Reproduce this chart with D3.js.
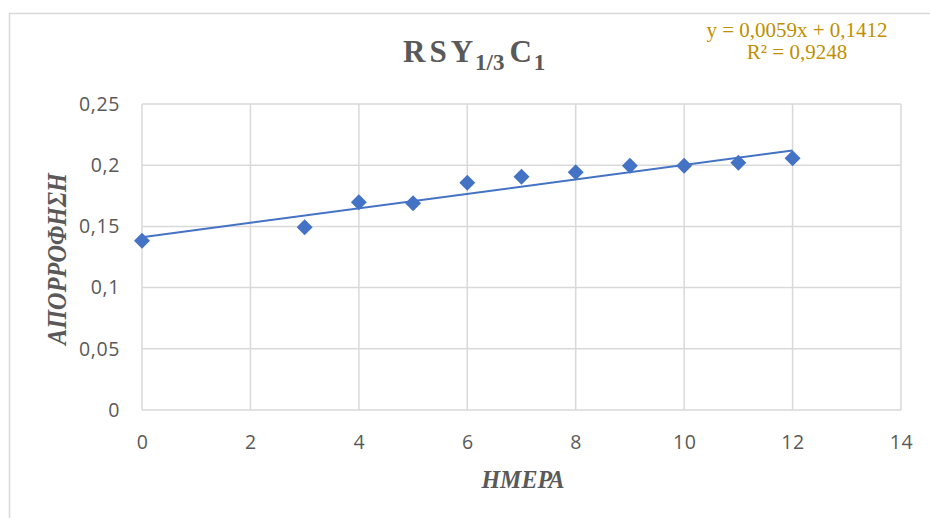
<!DOCTYPE html>
<html>
<head>
<meta charset="utf-8">
<script src="https://cdn.jsdelivr.net/npm/d3@7"></script>
<style>
  html, body { margin: 0; padding: 0; background: #fff; }
  svg { display: block; }
</style>
</head>
<body>
<svg id="chart" width="930" height="518"></svg>
<script>
// Absorbance measured per day
const days       = [0, 3, 4, 5, 6, 7, 8, 9, 10, 11, 12];
const absorbance = [0.1383, 0.1493, 0.1697, 0.1689, 0.1857, 0.1906, 0.1942, 0.1996, 0.1996, 0.2020, 0.2056];

// Linear trendline y = slope * x + intercept
const trendSlope     = [0.0059];
const trendIntercept = [0.1412];
const trendLabel     = ["y = 0,0059x + 0,1412", "R² = 0,9248"];

const xTicks = [0, 2, 4, 6, 8, 10, 12, 14];
const yTicks = [0, 0.05, 0.1, 0.15, 0.2, 0.25];

const svg = d3.select("#chart");
const grey = "#595959";
const gridCol = "#d9d9d9";
const blue = "#4472C4";
const serif = "'Liberation Serif', 'Times New Roman', serif";

const plot = { left: 142, right: 901, top: 104, bottom: 410 };

const x = d3.scaleLinear().domain([0, 14]).range([plot.left, plot.right]);
const y = d3.scaleLinear().domain([0, 0.25]).range([plot.bottom, plot.top]);

const fmt = v => String(+v.toFixed(2)).replace(".", ",");

// Chart area frame (left and top edges)
svg.append("path")
  .attr("d", "M9.5,518 V13.5 H930")
  .attr("fill", "none").attr("stroke", gridCol).attr("stroke-width", 1.5);

// Gridlines
const grid = svg.append("g");
grid.selectAll("line.h").data(yTicks).join("line")
  .attr("x1", plot.left).attr("x2", plot.right)
  .attr("y1", d => y(d)).attr("y2", d => y(d))
  .attr("stroke", gridCol).attr("stroke-width", 1.5);
grid.selectAll("line.v").data(xTicks).join("line")
  .attr("y1", plot.top).attr("y2", plot.bottom)
  .attr("x1", d => x(d)).attr("x2", d => x(d))
  .attr("stroke", gridCol).attr("stroke-width", 1.5);

// Axes (labels only)
const xAxis = svg.append("g")
  .attr("transform", `translate(0,${plot.bottom + 22})`)
  .call(d3.axisBottom(x).tickValues(xTicks).tickSize(0).tickFormat(d => d));
const yAxis = svg.append("g")
  .attr("transform", `translate(${plot.left - 22},0)`)
  .call(d3.axisLeft(y).tickValues(yTicks).tickSize(0).tickFormat(fmt));
[xAxis, yAxis].forEach(a => {
  a.select(".domain").remove();
  a.selectAll("text")
    .attr("fill", grey)
    .style("font-family", "'Open Sans', sans-serif")
    .style("font-size", "19.5px")
    .style("letter-spacing", "0.6px");
});
yAxis.selectAll("text").attr("x", 0).attr("dx", 0);

// Trendline
const x0 = d3.min(days), x1 = d3.max(days);
const trend = d3.line().x(d => x(d)).y(d => y(trendSlope[0] * d + trendIntercept[0]));
svg.append("path")
  .datum([x0, x1])
  .attr("d", trend)
  .attr("fill", "none").attr("stroke", blue).attr("stroke-width", 2);

// Diamond markers
const diamond = d3.symbol().type(d3.symbolDiamond2).size(162);
svg.append("g").selectAll("path").data(days).join("path")
  .attr("d", diamond)
  .attr("transform", (d, i) => `translate(${x(d)},${y(absorbance[i])})`)
  .attr("fill", blue);

// Title with subscripts
const title = svg.append("text")
  .attr("x", 403).attr("y", 62)
  .attr("fill", grey)
  .style("font-family", serif)
  .style("font-weight", "bold")
  .style("font-size", "31px")
  .style("letter-spacing", "4px");
title.append("tspan").text("RSY");
title.append("tspan").attr("dy", 8).attr("dx", -2).style("font-size", "23px").style("letter-spacing", "0px").text("1/3");
title.append("tspan").attr("dy", -8).attr("dx", 5).style("letter-spacing", "0px").text("C");
title.append("tspan").attr("dy", 8).attr("dx", 2).style("font-size", "23px").text("1");

// Trendline equation
svg.append("g").selectAll("text").data(trendLabel).join("text")
  .attr("x", 797).attr("y", (d, i) => 37 + i * 22)
  .attr("text-anchor", "middle")
  .attr("fill", "#BF9000")
  .style("font-family", serif)
  .style("font-size", "21px")
  .text(d => d);

// Axis titles
svg.append("text")
  .attr("x", 523).attr("y", 488)
  .attr("text-anchor", "middle")
  .attr("fill", grey)
  .attr("textLength", 83).attr("lengthAdjust", "spacingAndGlyphs")
  .style("font-family", serif)
  .style("font-weight", "bold").style("font-style", "italic")
  .style("font-size", "25px")
  .text("ΗΜΕΡΑ");

svg.append("text")
  .attr("transform", "translate(66,259) rotate(-90)")
  .attr("text-anchor", "middle")
  .attr("fill", grey)
  .attr("textLength", 172).attr("lengthAdjust", "spacingAndGlyphs")
  .style("font-family", serif)
  .style("font-weight", "bold").style("font-style", "italic")
  .style("font-size", "27px")
  .text("ΑΠΟΡΡΟΦΗΣΗ");
</script>
</body>
</html>
